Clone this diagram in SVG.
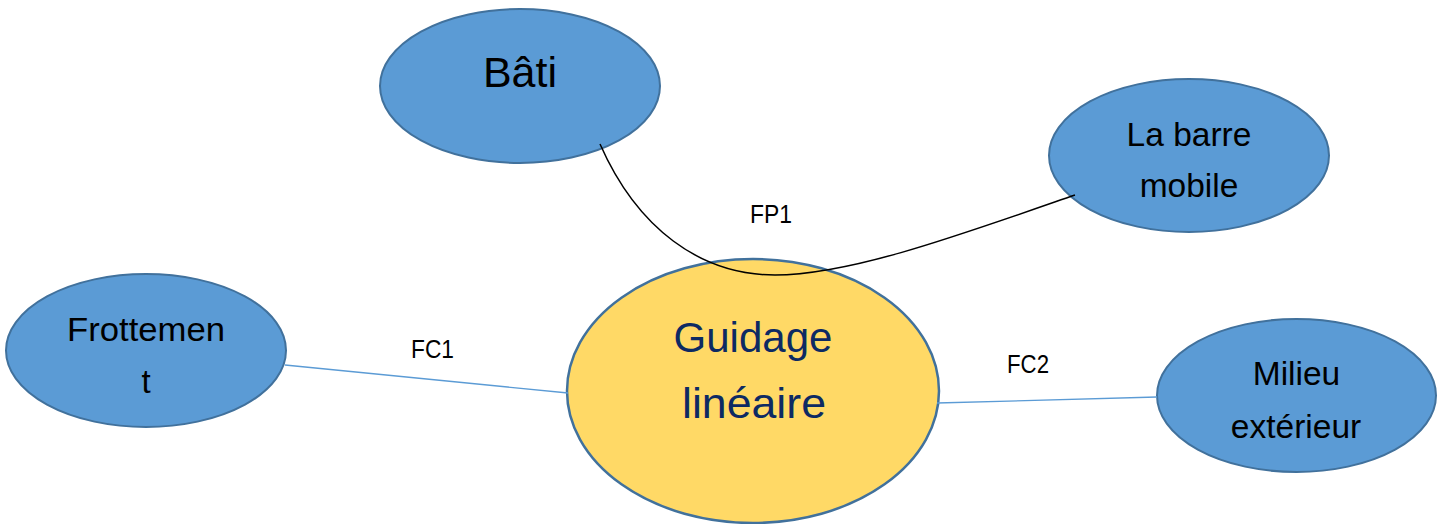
<svg xmlns="http://www.w3.org/2000/svg" width="1445" height="524" viewBox="0 0 1445 524">
<style>
.blue{fill:#5b9bd5;stroke:#41719c;stroke-width:2}
.yellow{fill:#ffd966;stroke:#41719c;stroke-width:2.5}
.t{font-family:"Liberation Sans",Arial,sans-serif;fill:#000;text-anchor:middle}
.g{font-family:"Liberation Sans",Arial,sans-serif;fill:#0d2a63;text-anchor:middle;font-size:42px}
.lbl{font-family:"Liberation Sans",Arial,sans-serif;fill:#000;font-size:26px}
.c-blue{fill:none;stroke:#5b9bd5;stroke-width:1.3}
.c-black{fill:none;stroke:#000;stroke-width:1.5}
</style>
<rect width="1445" height="524" fill="#fff"/>
<g id="bati">
<ellipse class="blue" cx="520" cy="86" rx="140" ry="77"/>
<text class="t" x="520" y="87" font-size="43">Bâti</text>
</g>
<g id="barre-mobile">
<ellipse class="blue" cx="1189" cy="155.5" rx="140" ry="76.5"/>
<text class="t" x="1189" y="146" font-size="33.5">La barre</text>
<text class="t" x="1189" y="197" font-size="33.5">mobile</text>
</g>
<g id="frottement">
<ellipse class="blue" cx="146" cy="350.5" rx="140" ry="76.5"/>
<text class="t" x="146" y="341" font-size="33" textLength="158" lengthAdjust="spacingAndGlyphs">Frottemen</text>
<text class="t" x="146" y="393" font-size="33">t</text>
</g>
<g id="guidage">
<ellipse class="yellow" cx="753" cy="391" rx="186" ry="132"/>
<text class="g" x="753" y="352">Guidage</text>
<text class="g" x="754" y="418" textLength="144" lengthAdjust="spacingAndGlyphs">linéaire</text>
</g>
<g id="milieu">
<ellipse class="blue" cx="1296.5" cy="395.5" rx="139.5" ry="76.5"/>
<text class="t" x="1296.5" y="385" font-size="33.5">Milieu</text>
<text class="t" x="1296" y="438" font-size="33.5">extérieur</text>
</g>
<g id="connectors">
<path class="c-black" d="M600,144 C637,228 700,275 775,275 C850,275 960,235 1075,195"/>
<line class="c-blue" x1="285" y1="365" x2="568" y2="393"/>
<line class="c-blue" x1="937" y1="403" x2="1157" y2="397"/>
</g>
<g id="labels">
<text class="lbl" x="750" y="223" textLength="42" lengthAdjust="spacingAndGlyphs">FP1</text>
<text class="lbl" x="411" y="358" textLength="43" lengthAdjust="spacingAndGlyphs">FC1</text>
<text class="lbl" x="1007" y="373" textLength="42" lengthAdjust="spacingAndGlyphs">FC2</text>
</g>
</svg>
